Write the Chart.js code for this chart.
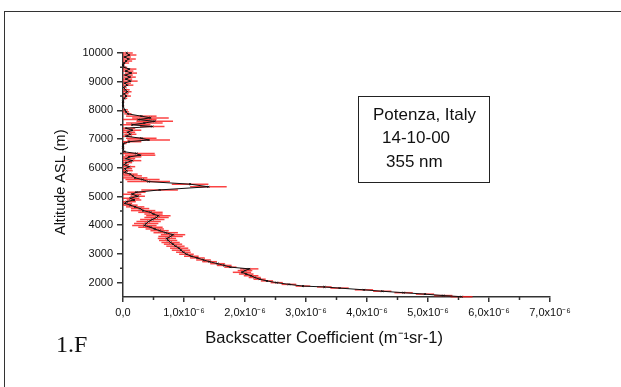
<!DOCTYPE html>
<html><head><meta charset="utf-8">
<script src="https://cdn.jsdelivr.net/npm/chart.js@4"></script>
<style>
html,body{margin:0;padding:0;background:#fff;}
#wrap{position:relative;width:621px;height:387px;overflow:hidden;}
#frame{position:absolute;left:4px;top:11px;width:700px;height:400px;border-top:1.5px solid #333;border-left:1.5px solid #333;}
canvas{position:absolute;left:0;top:0;}
#legend{position:absolute;left:358px;top:96px;width:130px;height:85px;border:1px solid #222;font-family:'Liberation Sans',Arial,sans-serif;font-size:17px;color:#111;}
#legend div{position:absolute;white-space:nowrap;line-height:17px;}
#label{position:absolute;left:56px;top:331px;font-family:'Liberation Serif','Times New Roman',serif;font-size:24px;color:#111;}
</style></head>
<body>
<div id="wrap">
<div id="frame"></div>
<canvas id="c" width="621" height="387"></canvas>
<div id="legend">
  <div style="left:14px;top:9px">Potenza, Italy</div>
  <div style="left:23px;top:32px">14-10-00</div>
  <div style="left:27px;top:56px">355 nm</div>
</div>
<div id="label">1.F</div>
</div>
<script>
// Altitude (m ASL)
const altitudes = [10000, 9930, 9860, 9790, 9720, 9650, 9580, 9500, 9440, 9370, 9300, 9230, 9160, 9090, 9020, 8950, 8880, 8800, 8720, 8650, 8580, 8500, 8420, 8300, 8150, 8020, 7950, 7880, 7800, 7740, 7680, 7620, 7560, 7500, 7440, 7380, 7310, 7240, 7170, 7100, 7030, 6970, 6910, 6850, 6700, 6560, 6500, 6440, 6380, 6320, 6250, 6180, 6110, 6040, 5970, 5900, 5840, 5780, 5720, 5650, 5590, 5520, 5430, 5340, 5230, 5150, 5080, 5010, 4940, 4880, 4820, 4760, 4700, 4640, 4580, 4510, 4450, 4390, 4330, 4270, 4200, 4130, 4060, 3990, 3930, 3870, 3810, 3740, 3670, 3610, 3540, 3470, 3400, 3340, 3270, 3200, 3130, 3060, 2990, 2920, 2860, 2790, 2730, 2660, 2600, 2540, 2480, 2420, 2360, 2300, 2240, 2180, 2120, 2060, 2000, 1940, 1880, 1850, 1810, 1750, 1700, 1650, 1600, 1550, 1510];
// Backscatter coefficient (x 1e-6 m^-1 sr^-1)
const backscatter = [0.06, 0.10, 0.03, 0.09, 0.05, 0.02, 0.00, 0.02, 0.10, 0.05, 0.13, 0.04, 0.11, 0.05, 0.12, 0.03, 0.07, 0.01, 0.04, 0.07, 0.02, 0.05, 0.02, 0.00, 0.00, 0.03, 0.05, 0.08, 0.30, 0.45, 0.25, 0.52, 0.35, 0.15, 0.48, 0.05, 0.15, 0.08, 0.12, 0.05, 0.30, 0.42, 0.10, 0.01, 0.00, 0.02, 0.22, 0.28, 0.10, 0.05, 0.15, 0.05, 0.02, 0.10, 0.03, 0.06, 0.02, 0.12, 0.16, 0.20, 0.32, 0.42, 1.10, 1.40, 0.60, 0.22, 0.15, 0.24, 0.12, 0.18, 0.06, 0.03, 0.12, 0.20, 0.28, 0.33, 0.45, 0.50, 0.58, 0.55, 0.48, 0.42, 0.38, 0.35, 0.45, 0.52, 0.60, 0.70, 0.82, 0.78, 0.72, 0.74, 0.78, 0.82, 0.86, 0.92, 0.95, 0.99, 1.04, 1.12, 1.22, 1.32, 1.42, 1.55, 1.66, 1.76, 2.07, 2.00, 1.95, 2.02, 2.10, 2.16, 2.24, 2.36, 2.52, 2.72, 2.95, 3.30, 3.55, 3.95, 4.25, 4.60, 4.95, 5.25, 5.55];
// Error (same units)
const backscatterErr = [0.10, 0.12, 0.10, 0.12, 0.10, 0.08, 0.03, 0.05, 0.12, 0.12, 0.10, 0.12, 0.10, 0.10, 0.12, 0.10, 0.10, 0.05, 0.07, 0.07, 0.07, 0.08, 0.05, 0.02, 0.02, 0.05, 0.05, 0.06, 0.25, 0.30, 0.30, 0.30, 0.30, 0.30, 0.20, 0.15, 0.15, 0.12, 0.10, 0.10, 0.25, 0.35, 0.20, 0.05, 0.02, 0.03, 0.30, 0.25, 0.20, 0.15, 0.15, 0.10, 0.08, 0.10, 0.12, 0.10, 0.05, 0.12, 0.15, 0.20, 0.28, 0.35, 0.30, 0.30, 0.30, 0.15, 0.15, 0.12, 0.15, 0.12, 0.15, 0.12, 0.12, 0.15, 0.15, 0.20, 0.20, 0.15, 0.20, 0.20, 0.20, 0.20, 0.20, 0.20, 0.20, 0.15, 0.15, 0.20, 0.20, 0.20, 0.15, 0.15, 0.15, 0.15, 0.15, 0.15, 0.15, 0.12, 0.12, 0.12, 0.12, 0.12, 0.12, 0.12, 0.12, 0.10, 0.15, 0.12, 0.15, 0.12, 0.12, 0.10, 0.10, 0.10, 0.10, 0.12, 0.12, 0.12, 0.15, 0.15, 0.15, 0.15, 0.15, 0.15, 0.18];

const xTickValues = [0, 1, 2, 3, 4, 5, 6, 7];
const xTickLabels = ['0,0', '1,0x10\u207B\u2076', '2,0x10\u207B\u2076', '3,0x10\u207B\u2076', '4,0x10\u207B\u2076', '5,0x10\u207B\u2076', '6,0x10\u207B\u2076', '7,0x10\u207B\u2076'];
const xMinorTicks = [0.5, 1.5, 2.5, 3.5, 4.5, 5.5, 6.5];
const yTickValues = [2000, 3000, 4000, 5000, 6000, 7000, 8000, 9000, 10000];
const yMinorTicks = [2500, 3500, 4500, 5500, 6500, 7500, 8500, 9500];
const xTitle = 'Backscatter Coefficient (m\u207B\u00B9sr-1)';
const yTitle = 'Altitude ASL (m)';

const FONT = "'Liberation Sans', Arial, sans-serif";
const AX = '#333';

const extras = {
  id: 'extras',
  beforeDatasetsDraw(chart) {
    const {ctx, chartArea, scales: {x, y}} = chart;
    ctx.save();
    ctx.beginPath();
    ctx.rect(chartArea.left, chartArea.top - 5, chartArea.right - chartArea.left, chartArea.bottom - chartArea.top + 10);
    ctx.clip();
    ctx.strokeStyle = 'rgba(250,20,20,0.8)';
    ctx.lineWidth = 1.5;
    for (let i = 0; i < altitudes.length; i++) {
      const py = y.getPixelForValue(altitudes[i]);
      ctx.beginPath();
      ctx.moveTo(x.getPixelForValue(backscatter[i] - backscatterErr[i]), py);
      ctx.lineTo(x.getPixelForValue(backscatter[i] + backscatterErr[i]), py);
      ctx.stroke();
    }
    ctx.restore();
  },
  afterDraw(chart) {
    const {ctx, chartArea, scales: {x, y}} = chart;
    ctx.save();
    ctx.strokeStyle = AX;
    ctx.lineWidth = 1.5;
    ctx.beginPath();
    yMinorTicks.forEach(v => {
      const py = y.getPixelForValue(v);
      ctx.moveTo(chartArea.left - 3, py);
      ctx.lineTo(chartArea.left, py);
    });
    xMinorTicks.forEach(v => {
      const px = x.getPixelForValue(v);
      ctx.moveTo(px, chartArea.bottom);
      ctx.lineTo(px, chartArea.bottom + 3);
    });
    ctx.stroke();
    ctx.restore();
  }
};

new Chart(document.getElementById('c'), {
  type: 'scatter',
  data: {
    datasets: [{
      data: altitudes.map((a, i) => ({x: backscatter[i], y: a})),
      showLine: true,
      tension: 0,
      borderColor: '#111',
      borderWidth: 1,
      pointRadius: 1.3,
      pointStyle: 'crossRot',
      pointBorderColor: '#111',
      pointBorderWidth: 1,
      clip: false
    }]
  },
  options: {
    responsive: false,
    animation: false,
    devicePixelRatio: 1,
    layout: {padding: {left: 40, right: 71, top: 53, bottom: 39}},
    plugins: {legend: {display: false}, tooltip: {enabled: false}},
    scales: {
      x: {
        type: 'linear', min: 0, max: 7,
        afterBuildTicks(s) { s.ticks = xTickValues.map(v => ({value: v})); },
        afterFit(s) { s.height = 51; },
        ticks: {callback: (v, i) => xTickLabels[i], maxRotation: 0, minRotation: 0, autoSkip: false, padding: 4, color: '#111', font: {family: FONT, size: 11}},
        grid: {drawOnChartArea: false, tickLength: 5, color: AX, lineWidth: 1.5},
        border: {color: AX, width: 1.5},
        title: {display: true, text: xTitle + '\u2003\u2002', color: '#111', font: {family: FONT, size: 16.5}, padding: {top: 0, bottom: 0}}
      },
      y: {
        type: 'linear', min: 1500, max: 10000,
        afterBuildTicks(s) { s.ticks = yTickValues.map(v => ({value: v})); },
        afterFit(s) { s.width = 83; },
        ticks: {callback: v => String(v), padding: 4, color: '#111', font: {family: FONT, size: 11}},
        grid: {drawOnChartArea: false, tickLength: 6, color: AX, lineWidth: 1.5},
        border: {color: AX, width: 1.5},
        title: {display: true, text: yTitle + '\u2003', color: '#111', font: {family: FONT, size: 14.5}, padding: {top: 11.8, bottom: 0}}
      }
    }
  },
  plugins: [extras]
});
</script>
</body></html>
